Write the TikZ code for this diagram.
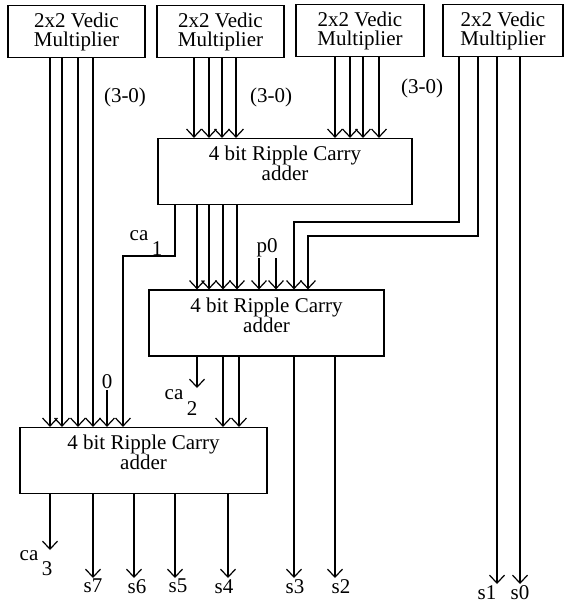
\documentclass[tikz,border=0pt]{standalone}
\usepackage{fontspec}
\setmainfont{Liberation Serif}
\usetikzlibrary{arrows.meta}

\begin{document}
\begin{tikzpicture}[x=1pt, y=-1pt,
  mult/.style={draw, line width=1.2pt, inner sep=0pt, minimum height=52pt, align=center, font=\fontsize{21}{19}\selectfont},
  rca/.style={draw, line width=1.2pt, inner sep=0pt, minimum height=66pt, align=center, text depth=16pt, font=\fontsize{21}{20}\selectfont},
  lbl/.style={inner sep=1pt, font=\fontsize{21}{21}\selectfont},
  bus/.style={line width=1.2pt, -{Straight Barb[length=8pt,width=15pt]}}]
  \useasboundingbox (0,0) rectangle (566,604);

  % Multipliers
  \node[mult, minimum width=137pt] (m1) at (76.5,31.5) {2x2 Vedic\\Multiplier};
  \node[mult, minimum width=127pt] (m2) at (220.5,31.5) {2x2 Vedic\\Multiplier};
  \node[mult, minimum width=128pt] (m3) at (360,30.5) {2x2 Vedic\\Multiplier};
  \node[mult, minimum width=120pt] (m4) at (503,30.5) {2x2 Vedic\\Multiplier};

  % Adders
  \node[rca, minimum width=254pt] (r1) at (285,171.5) {4 bit Ripple Carry\\adder};
  \node[rca, minimum width=235pt] (r2) at (266.5,323) {4 bit Ripple Carry\\adder};
  \node[rca, minimum width=247pt] (r3) at (143.5,460.5) {4 bit Ripple Carry\\adder};

  % Labels
  \node[lbl] (bw1) at (125,97) {(3-0)};
  \node[lbl] (bw2) at (271,97) {(3-0)};
  \node[lbl] (bw3) at (422,88) {(3-0)};
  \node[lbl] (p0) at (267,248) {p0};
  \node[lbl] (zero) at (107,382) {0};
  \node[lbl] (ca1) at (139,236) {ca};
  \node[lbl] (ca1i) at (157,249) {1};
  \node[lbl] (ca2) at (174,395) {ca};
  \node[lbl] (ca2i) at (192,409) {2};
  \node[lbl] (ca3) at (29,556) {ca};
  \node[lbl] (ca3i) at (47,569) {3};
  \node[lbl, anchor=north] (s7) at (93,578) {s7};
  \node[lbl, anchor=north] (s6) at (137,578) {s6};
  \node[lbl, anchor=north] (s5) at (178,578) {s5};
  \node[lbl, anchor=north] (s4) at (224,578) {s4};
  \node[lbl, anchor=north] (s3) at (295,578) {s3};
  \node[lbl, anchor=north] (s2) at (341,578) {s2};
  \node[lbl, anchor=north] (s1) at (487,584) {s1};
  \node[lbl, anchor=north] (s0) at (520,584) {s0};
  \coordinate (c2end) at (197,388);
  \coordinate (c3end) at (50,550);

  % Multiplier outputs
  \foreach \x in {50,62,78,93}
    \draw[bus] (m1.south -| \x,0) -- (r3.north -| \x,0);
  \foreach \x in {194,209,222,236}
    \draw[bus] (m2.south -| \x,0) -- (r1.north -| \x,0);
  \foreach \x in {335,350,363,379}
    \draw[bus] (m3.south -| \x,0) -- (r1.north -| \x,0);
  \draw[bus] (m4.south -| 459,0) -- (459,222) -| (r2.north -| 294,0);
  \draw[bus] (m4.south -| 478,0) -- (478,236) -| (r2.north -| 308,0);
  \draw[bus] (m4.south -| 497,0) -- (s1.north -| 497,0);
  \draw[bus] (m4.south -| 520,0) -- (s0.north -| 520,0);

  % First adder outputs
  \foreach \x in {197,209,223,237}
    \draw[bus] (r1.south -| \x,0) -- (r2.north -| \x,0);
  \draw[bus] (r1.south -| 175,0) -- (175,256) -| (r3.north -| 123,0);
  \foreach \x in {259,276}
    \draw[bus] (p0.south -| \x,0) -- (r2.north -| \x,0);
  \draw[bus] (zero.south) -- (zero.south |- r3.north);

  % Second adder outputs
  \draw[bus] (r2.south -| c2end) -- (c2end);
  \foreach \x in {223,239}
    \draw[bus] (r2.south -| \x,0) -- (r3.north -| \x,0);
  \draw[bus] (r2.south -| 294,0) -- (s3.north -| 294,0);
  \draw[bus] (r2.south -| 335,0) -- (s2.north -| 335,0);

  % Last adder outputs
  \draw[bus] (r3.south -| c3end) -- (c3end);
  \draw[bus] (r3.south -| 93,0) -- (s7.north -| 93,0);
  \draw[bus] (r3.south -| 134,0) -- (s6.north -| 134,0);
  \draw[bus] (r3.south -| 175,0) -- (s5.north -| 175,0);
  \draw[bus] (r3.south -| 228,0) -- (s4.north -| 228,0);
\end{tikzpicture}
\end{document}
